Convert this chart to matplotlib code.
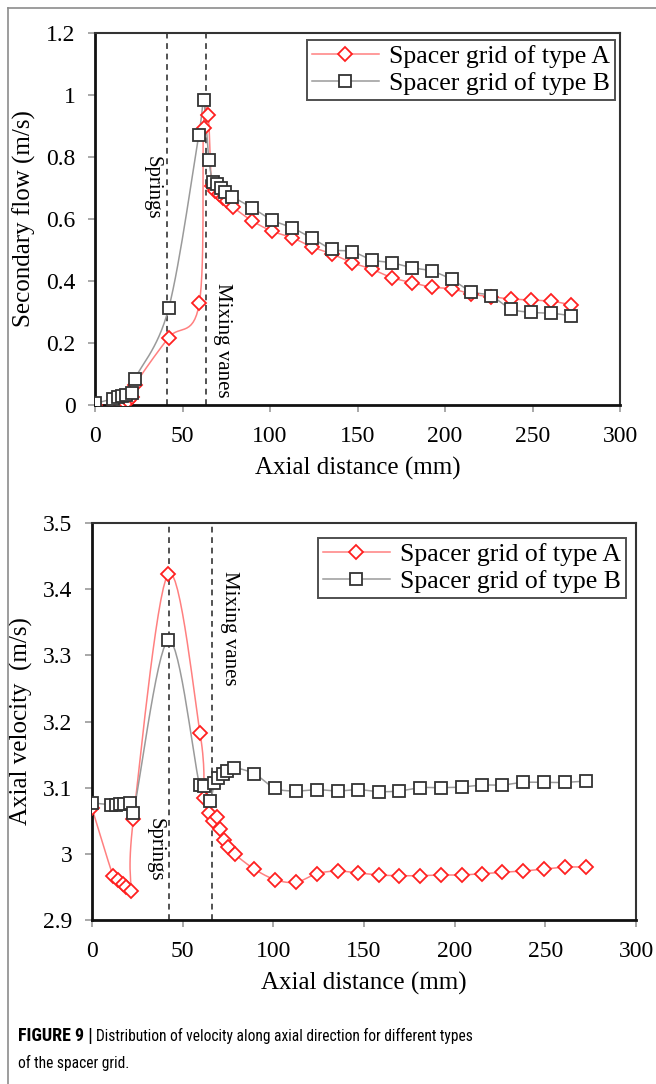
import numpy as np
import matplotlib
matplotlib.use("Agg")
import matplotlib.pyplot as plt
from matplotlib.lines import Line2D
from matplotlib import font_manager

# Axial positions (mm) of the sampled points for each grid type
x_a = [0, 11.7, 14.5, 16.9, 18.8, 21.3, 22.8, 42.0, 59.6, 62.0, 64.7, 66.6, 68.8,
       70.6, 73.0, 75.2, 78.9, 89.5, 101.0, 112.5, 124.0, 135.5, 146.9, 158.3,
       169.5, 181.0, 192.4, 203.8, 215.0, 226.3, 237.6, 249.3, 260.8, 272.2]
x_b = [0, 10.5, 13.2, 15.4, 17.6, 21.0, 22.8, 42.1, 59.3, 62.0, 65.1, 67.5, 69.7,
       72.1, 74.3, 78.5, 89.5, 101.0, 112.5, 124.0, 135.5, 146.9, 158.3, 169.5,
       181.0, 192.4, 203.8, 215.0, 226.3, 237.6, 249.3, 260.8, 272.2]

# Secondary flow (m/s)
sec_a = [0.0, 0.0, 0.003, 0.008, 0.013, 0.025, 0.065, 0.217, 0.328, 0.895, 0.935,
         0.705, 0.690, 0.680, 0.668, 0.657, 0.638, 0.595, 0.561, 0.540, 0.510,
         0.487, 0.459, 0.438, 0.411, 0.395, 0.380, 0.375, 0.358, 0.349, 0.342,
         0.339, 0.335, 0.323]
sec_b = [0.005, 0.020, 0.025, 0.029, 0.033, 0.038, 0.084, 0.312, 0.871, 0.984,
         0.790, 0.720, 0.712, 0.700, 0.688, 0.672, 0.637, 0.597, 0.572, 0.538,
         0.502, 0.495, 0.468, 0.459, 0.443, 0.432, 0.405, 0.366, 0.352, 0.310,
         0.299, 0.296, 0.288]

# Axial velocity (m/s)
vel_a = [3.069, 2.966, 2.960, 2.955, 2.950, 2.944, 3.052, 3.423, 3.182, 3.084,
         3.062, 3.049, 3.055, 3.037, 3.021, 3.010, 2.999, 2.977, 2.961, 2.957,
         2.970, 2.974, 2.971, 2.968, 2.967, 2.967, 2.968, 2.968, 2.970, 2.972,
         2.974, 2.977, 2.980, 2.980]
vel_b = [3.077, 3.074, 3.074, 3.075, 3.075, 3.077, 3.062, 3.323, 3.104, 3.103,
         3.080, 3.107, 3.114, 3.121, 3.125, 3.130, 3.121, 3.099, 3.095, 3.097,
         3.095, 3.097, 3.094, 3.095, 3.100, 3.100, 3.101, 3.104, 3.104, 3.108,
         3.108, 3.108, 3.110]

labels = ["Spacer grid of type A", "Spacer grid of type B"]
x_ticks = [0, 50, 100, 150, 200, 250, 300]
sec_ticks = [0, 0.2, 0.4, 0.6, 0.8, 1.0, 1.2]
sec_ticklabels = ["0", "0.2", "0.4", "0.6", "0.8", "1", "1.2"]
vel_ticks = [2.9, 3.0, 3.1, 3.2, 3.3, 3.4, 3.5]
vel_ticklabels = ["2.9", "3", "3.1", "3.2", "3.3", "3.4", "3.5"]

springs_top, vanes_top = 41.0, 63.4
springs_bot, vanes_bot = 42.6, 66.4

SERIF = "Liberation Serif"


def pick_font(names):
    for n in names:
        try:
            font_manager.findfont(n, fallback_to_default=False)
            return n
        except Exception:
            continue
    return "DejaVu Sans"


CAPTION = pick_font(["Liberation Sans Narrow", "Roboto Condensed", "Roboto", "Liberation Sans"])

RED_LINE = "#ff8080"
RED_MK = "#ff2020"
GRAY_LINE = "#9a9a9a"
DARK_MK = "#333333"

TICK_FS = 17
LABEL_FS = 18
LEGEND_FS = 18.5
NOTE_FS = 15
CAPTION_FS = 11.2


def smooth(xs, ys, xr, yr, n=16):
    """Cardinal (Catmull-Rom) curve through the points, computed in axes-normalised space."""
    xs = np.asarray(xs, float)
    ys = np.asarray(ys, float)
    px = (xs - xr[0]) / (xr[1] - xr[0])
    py = (ys - yr[0]) / (yr[1] - yr[0])
    P = np.column_stack([px, py])
    out = [P[0]]
    m = len(P)
    for i in range(m - 1):
        p0 = P[i - 1] if i > 0 else P[i]
        p1 = P[i]
        p2 = P[i + 1]
        p3 = P[i + 2] if i + 2 < m else P[i + 1]
        c1 = p1 + (p2 - p0) / 6.0
        c2 = p2 - (p3 - p1) / 6.0
        t = np.linspace(0, 1, n)[1:, None]
        seg = ((1 - t) ** 3) * p1 + 3 * ((1 - t) ** 2) * t * c1 + 3 * (1 - t) * t ** 2 * c2 + t ** 3 * p2
        out.extend(seg)
    out = np.array(out)
    return out[:, 0] * (xr[1] - xr[0]) + xr[0], out[:, 1] * (yr[1] - yr[0]) + yr[0]


def draw_panel(ax, ya, yb, yr, ticks, ticklabels, ylabel, springs, vanes,
               springs_pos, vanes_pos, legend_anchor):
    xr = (0, 300)
    ax.set_xlim(*xr)
    ax.set_ylim(*yr)
    for xv in (springs, vanes):
        ax.axvline(xv, color="#444444", lw=1.3, ls=(0, (3.2, 2.6)), zorder=1)

    sx, sy = smooth(x_a, ya, xr, yr)
    ax.plot(sx, sy, color=RED_LINE, lw=1.1, zorder=2)
    sx, sy = smooth(x_b, yb, xr, yr)
    ax.plot(sx, sy, color=GRAY_LINE, lw=1.1, zorder=2)
    ax.plot(x_a, ya, ls="none", marker="D", ms=7.5, mfc="white", mec=RED_MK,
            mew=1.3, zorder=3)
    ax.plot(x_b, yb, ls="none", marker="s", ms=9, mfc="white", mec=DARK_MK,
            mew=1.3, zorder=4)

    ax.set_xticks(x_ticks)
    ax.set_xticklabels([str(t) for t in x_ticks], fontsize=TICK_FS, family=SERIF)
    ax.set_yticks(ticks)
    ax.set_yticklabels(ticklabels, fontsize=TICK_FS, family=SERIF)
    ax.tick_params(direction="out", length=5, width=1.2, color="#999999")
    ax.tick_params(axis="x", pad=10)
    ax.tick_params(axis="y", pad=9)
    ax.set_xlabel("Axial distance (mm)", fontsize=LABEL_FS, family=SERIF, labelpad=7)
    ax.set_ylabel(ylabel, fontsize=LABEL_FS, family=SERIF, labelpad=7)
    for side in ("left", "bottom"):
        ax.spines[side].set_linewidth(2.0)
        ax.spines[side].set_color("#111111")
    for side in ("top", "right"):
        ax.spines[side].set_linewidth(1.5)
        ax.spines[side].set_color("#333333")

    ax.text(springs_pos[0], springs_pos[1], "Springs", rotation=270, fontsize=NOTE_FS,
            family=SERIF, ha="center", va="center")
    ax.text(vanes_pos[0], vanes_pos[1], "Mixing vanes", rotation=270, fontsize=NOTE_FS,
            family=SERIF, ha="center", va="center")

    handles = [
        Line2D([], [], color=RED_LINE, lw=1.1, marker="D", ms=7.5, mfc="white",
               mec=RED_MK, mew=1.3),
        Line2D([], [], color=GRAY_LINE, lw=1.1, marker="s", ms=9, mfc="white",
               mec=DARK_MK, mew=1.3),
    ]
    leg = ax.legend(handles, labels, loc="upper right", bbox_to_anchor=legend_anchor,
                    prop={"family": SERIF, "size": LEGEND_FS}, frameon=True, fancybox=False,
                    edgecolor="#222222", handlelength=2.6, handletextpad=0.4,
                    borderpad=0.2, labelspacing=0.15, borderaxespad=0.0)
    leg.get_frame().set_linewidth(1.4)


fig = plt.figure(figsize=(6.56, 10.84), dpi=100)
W, H = 656.0, 1084.0

ax1 = fig.add_axes([95 / W, 1 - 405 / H, 525 / W, 372 / H])
draw_panel(ax1, sec_a, sec_b, (0, 1.2), sec_ticks, sec_ticklabels,
           "Secondary flow (m/s)", springs_top, vanes_top,
           (32.6, 0.70), (73.0, 0.21), ((615 - 95) / 525, (405 - 40) / 372))

ax2 = fig.add_axes([92 / W, 1 - 920 / H, 544 / W, 397 / H])
draw_panel(ax2, vel_a, vel_b, (2.9, 3.5), vel_ticks, vel_ticklabels,
           "Axial velocity  (m/s)", springs_bot, vanes_bot,
           (34.7, 3.006), (76.1, 3.341), ((626 - 92) / 544, (920 - 538) / 397))

# outer frame of the figure panel
fig.add_artist(Line2D([8 / W, 8 / W], [0, 1 - 8 / H], color="#8c8c8c", lw=1.2,
                      transform=fig.transFigure))
fig.add_artist(Line2D([8 / W, 1], [1 - 8 / H, 1 - 8 / H], color="#8c8c8c", lw=1.2,
                      transform=fig.transFigure))

fig.text(18 / W, 1 - 1036 / H, "FIGURE 9 |", fontsize=13, family=CAPTION,
         fontweight="bold", va="center", ha="left")
fig.text(96 / W, 1 - 1036 / H,
         "Distribution of velocity along axial direction for different types",
         fontsize=CAPTION_FS, family=CAPTION, va="center", ha="left")
fig.text(18 / W, 1 - 1063 / H, "of the spacer grid.", fontsize=CAPTION_FS, family=CAPTION,
         va="center", ha="left")

fig.savefig("out.png", dpi=100)
